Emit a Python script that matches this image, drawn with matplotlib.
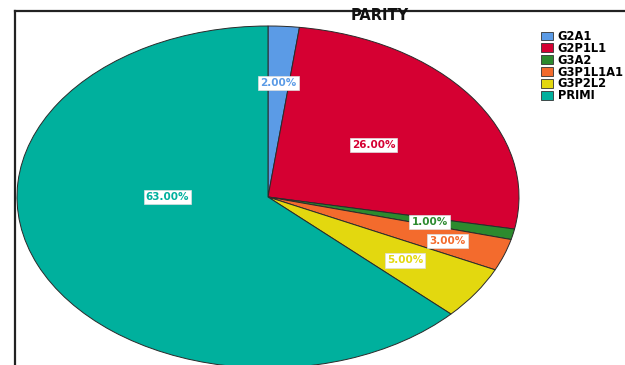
import numpy as np
import matplotlib.pyplot as plt
from matplotlib.lines import Line2D
from matplotlib.patches import Patch

plt.rcParams['font.family'] = ['DejaVu Sans']

# parity groups and their share of cases (%)
groups = ['G2A1', 'G2P1L1', 'G3A2', 'G3P1L1A1', 'G3P2L2', 'PRIMI']
shares = [2.0, 26.0, 1.0, 3.0, 5.0, 63.0]
colors = ['#5b9be6', '#d50032', '#2c8a2e', '#f36b2d', '#e3d80f', '#00b09d']

# where each percent label sits: radius and a turn away from the wedge middle
label_r = [0.67, 0.52, 0.66, 0.76, 0.66, 0.40]
label_turn = [0, 0, 0, 0, 0, -23.4]

fig = plt.figure(figsize=(6.25, 3.65), dpi=100)
# stretched axes so the pie comes out as an ellipse
ax = fig.add_axes([17 / 625, -3 / 365, 502 / 625, 342 / 365])

wedges, _ = ax.pie(shares, colors=colors, startangle=90, counterclock=False,
                   wedgeprops=dict(edgecolor='#2a2a2a', linewidth=0.7))
ax.set_aspect('auto')
ax.set_xlim(-1, 1)
ax.set_ylim(-1, 1)
ax.axis('off')

for w, val, c, r, turn in zip(wedges, shares, colors, label_r, label_turn):
    mid = np.radians((w.theta1 + w.theta2) / 2 + turn)
    ax.text(r * np.cos(mid), r * np.sin(mid), f'{val:.2f}%', color=c,
            fontsize=7.5, fontweight='bold', ha='center', va='center',
            bbox=dict(boxstyle='square,pad=0.2', fc='white', ec='#dddddd', lw=0.5))

# chart frame (left and top edges)
fig.add_artist(Line2D([15 / 625, 15 / 625], [0, 1 - 11 / 365], color='#222222', lw=1.6))
fig.add_artist(Line2D([15 / 625, 1], [1 - 11 / 365, 1 - 11 / 365], color='#222222', lw=1.6))

fig.text(380 / 625, 1 - 16 / 365, 'PARITY', ha='center', va='center',
         fontsize=10.5, fontweight='bold', color='#111111')

handles = [Patch(facecolor=c, edgecolor='#333333', linewidth=0.6) for c in colors]
fig.legend(handles, groups, loc='upper left', bbox_to_anchor=(541 / 625, 1 - 30 / 365),
           frameon=False, prop=dict(size=8.3, weight='bold'), handlelength=1.0,
           handleheight=0.8, handletextpad=0.45, labelspacing=-0.1, borderaxespad=0,
           borderpad=0)

fig.savefig('out.png', dpi=100)
